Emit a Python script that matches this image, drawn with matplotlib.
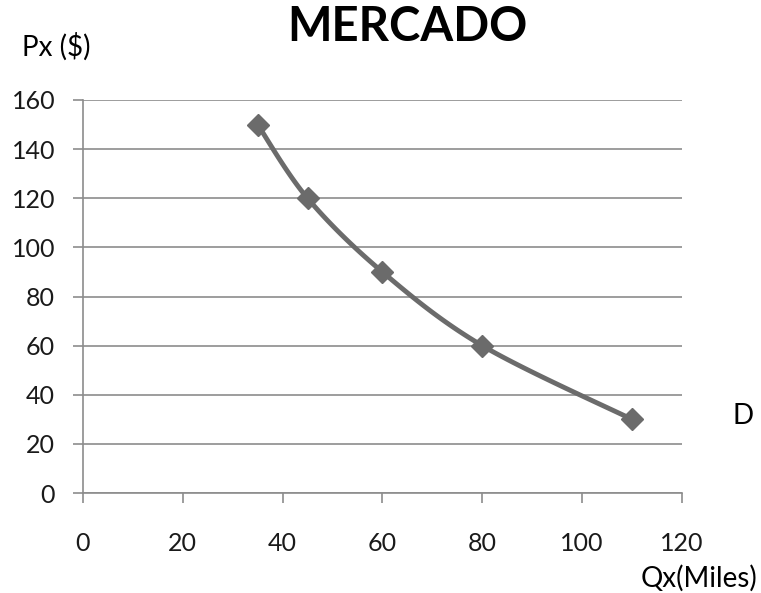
import numpy as np
import matplotlib.pyplot as plt

# demand curve points
qx = [35, 45, 60, 80, 110]
px = [150, 120, 90, 60, 30]

x_ticks = [0, 20, 40, 60, 80, 100, 120]
y_ticks = [0, 20, 40, 60, 80, 100, 120, 140, 160]

plt.rcParams['font.family'] = ['Lato', 'DejaVu Sans']


def smooth(xs, ys, steps=30):
    # Catmull-Rom spline through the points (like a smoothed line in a spreadsheet)
    pts = np.column_stack([xs, ys]).astype(float)
    pts = np.vstack([pts[0], pts, pts[-1]])
    out = []
    for i in range(1, len(pts) - 2):
        p0, p1, p2, p3 = pts[i - 1], pts[i], pts[i + 1], pts[i + 2]
        t = np.linspace(0, 1, steps)[:, None]
        seg = 0.5 * ((2 * p1) + (-p0 + p2) * t
                     + (2 * p0 - 5 * p1 + 4 * p2 - p3) * t ** 2
                     + (-p0 + 3 * p1 - 3 * p2 + p3) * t ** 3)
        out.append(seg)
    out = np.vstack(out)
    return out[:, 0], out[:, 1]


fig = plt.figure(figsize=(7.61, 5.93), dpi=100)
ax = fig.add_axes([0.109, 0.1686, 0.787, 0.6628])

sx, sy = smooth(qx, px)
ax.plot(sx, sy, color='#6b6b6b', lw=3.5, solid_capstyle='round', zorder=3)
ax.plot(qx, px, ls='none', marker='D', ms=11, color='#6b6b6b', zorder=4)

ax.set_xlim(0, 120)
ax.set_ylim(0, 160)
ax.set_xticks(x_ticks)
ax.set_yticks(y_ticks)
ax.grid(axis='y', color='#8c8c8c', lw=1.2)
ax.set_axisbelow(True)
for s in ['top', 'right']:
    ax.spines[s].set_visible(False)
for s in ['left', 'bottom']:
    ax.spines[s].set_color('#8c8c8c')
    ax.spines[s].set_linewidth(1.2)
ax.tick_params(axis='both', colors='#8c8c8c', width=1.2, length=7,
               labelcolor='#1a1a1a', labelsize=18)
ax.tick_params(axis='x', pad=21)
ax.tick_params(axis='y', pad=13)

fig.text(0.535, 0.955, 'MERCADO', ha='center', va='center',
         fontsize=34, fontweight='bold', color='black')
fig.text(0.029, 0.921, 'Px ($)', ha='left', va='center', fontsize=20)
fig.text(0.962, 0.298, 'D', ha='left', va='center', fontsize=20)
fig.text(0.995, 0.025, 'Qx(Miles)', ha='right', va='center', fontsize=20)

fig.savefig('out.png', dpi=100)
